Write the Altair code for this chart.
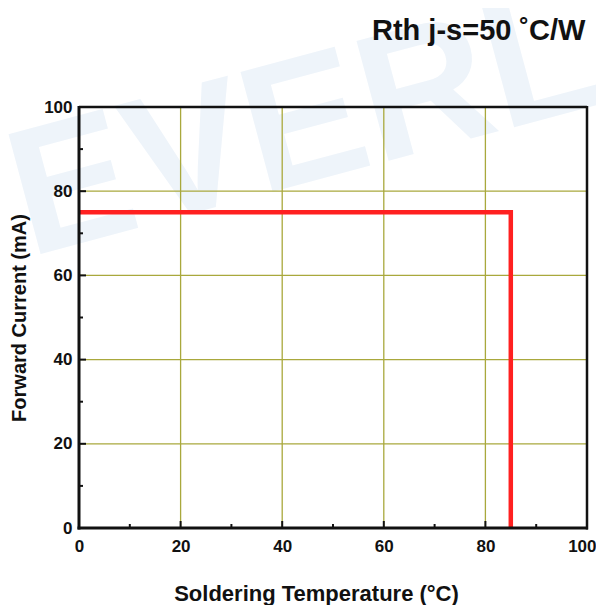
import altair as alt
import pandas as pd

# Data
line_x = [0, 85, 85]
line_y = [75, 75, 0]
major_ticks = [0, 20, 40, 60, 80, 100]
minor_ticks = [10, 30, 50, 70, 90]
grid_vals = [20, 40, 60, 80]

W, H = 508, 421
FONT = "Liberation Sans"
GRID = "#a9a83c"
INK = "#111111"

line_df = pd.DataFrame({"x": line_x, "y": line_y, "o": list(range(len(line_x)))})
major_df = pd.DataFrame({"v": major_ticks})
minor_df = pd.DataFrame({"v": minor_ticks})
grid_df = pd.DataFrame({"v": grid_vals})
one = pd.DataFrame({"k": [0]})

xs = alt.Scale(domain=[0, 100], nice=False, zero=False)
ys = alt.Scale(domain=[0, 100], nice=False, zero=False)

watermark = alt.Chart(pd.DataFrame({"t": ["EVERLIGHT"]})).mark_text(
    font=FONT, fontWeight="bold", fontSize=180, color="#eef4fa",
    align="left", baseline="alphabetic", angle=345, clip=False
).encode(x=alt.value(-50), y=alt.value(150), text="t:N")

vgrid = alt.Chart(grid_df).mark_rule(color=GRID, strokeWidth=1.3).encode(
    x=alt.X("v:Q", scale=xs, axis=alt.Axis(
        values=major_ticks, grid=False, domain=False, ticks=False, zindex=2,
        labelFlush=False,
        labelAlign={"condition": {"test": "datum.value == 100", "value": "right"}, "value": "center"},
        labelOffset={"condition": {"test": "datum.value == 100", "value": 9}, "value": 0},
        labelFont=FONT, labelFontWeight="bold", labelFontSize=17, labelColor=INK,
        labelPadding=10, title="Soldering Temperature (°C)", titleFont=FONT,
        titleFontWeight="bold", titleFontSize=22, titleColor=INK, titlePadding=29,
        titleX=237, titleAlign="center")),
)
hgrid = alt.Chart(grid_df).mark_rule(color=GRID, strokeWidth=1.3).encode(
    y=alt.Y("v:Q", scale=ys, axis=alt.Axis(
        values=major_ticks, grid=False, domain=False, ticks=False, zindex=2,
        labelFlush=False,
        labelFont=FONT, labelFontWeight="bold", labelFontSize=17, labelColor=INK,
        labelPadding=7, title="Forward Current (mA)", titleFont=FONT,
        titleFontWeight="bold", titleFontSize=20, titleColor=INK, titlePadding=14)),
)

xmaj = alt.Chart(major_df).mark_rule(color=INK, strokeWidth=2).encode(
    x=alt.X("v:Q", scale=xs), y=alt.value(H), y2=alt.value(H - 7))
xmin = alt.Chart(minor_df).mark_rule(color=INK, strokeWidth=2).encode(
    x=alt.X("v:Q", scale=xs), y=alt.value(H), y2=alt.value(H - 4))
ymaj = alt.Chart(major_df).mark_rule(color=INK, strokeWidth=2).encode(
    y=alt.Y("v:Q", scale=ys), x=alt.value(0), x2=alt.value(7))
ymin = alt.Chart(minor_df).mark_rule(color=INK, strokeWidth=2).encode(
    y=alt.Y("v:Q", scale=ys), x=alt.value(0), x2=alt.value(4))

# frame drawn on top
frame_top = alt.Chart(one).mark_rule(color=INK, strokeWidth=2.5).encode(
    x=alt.value(0), x2=alt.value(W), y=alt.value(0))
frame_bottom = alt.Chart(one).mark_rule(color=INK, strokeWidth=3).encode(
    x=alt.value(-1.5), x2=alt.value(W + 1), y=alt.value(H))
frame_left = alt.Chart(one).mark_rule(color=INK, strokeWidth=3).encode(
    y=alt.value(-1), y2=alt.value(H + 1.5), x=alt.value(0))
frame_right = alt.Chart(one).mark_rule(color=INK, strokeWidth=2.5).encode(
    y=alt.value(-1), y2=alt.value(H + 1.5), x=alt.value(W))

line = alt.Chart(line_df).mark_line(color="#ff2020", strokeWidth=4.5, strokeJoin="miter", clip=False).encode(
    x=alt.X("x:Q", scale=xs), y=alt.Y("y:Q", scale=ys), order="o:Q")

title = alt.Chart(pd.DataFrame({"t": ["Rth j-s=50 ˚C/W"]})).mark_text(
    font=FONT, fontWeight="bold", fontSize=29, color=INK, align="left",
    baseline="alphabetic", clip=False
).encode(x=alt.value(293), y=alt.value(-67), text="t:N")

chart = alt.layer(watermark, vgrid, hgrid, xmaj, xmin, ymaj, ymin, line,
                  frame_top, frame_bottom, frame_left, frame_right, title).properties(
    width=W, height=H,
    autosize=alt.AutoSizeParams(type="none"),
    padding={"left": 71, "top": 99, "right": 9, "bottom": 77},
    background="white",
).configure_view(strokeWidth=0)

chart.save("out.html", embed_options={"renderer": "svg", "actions": False})
